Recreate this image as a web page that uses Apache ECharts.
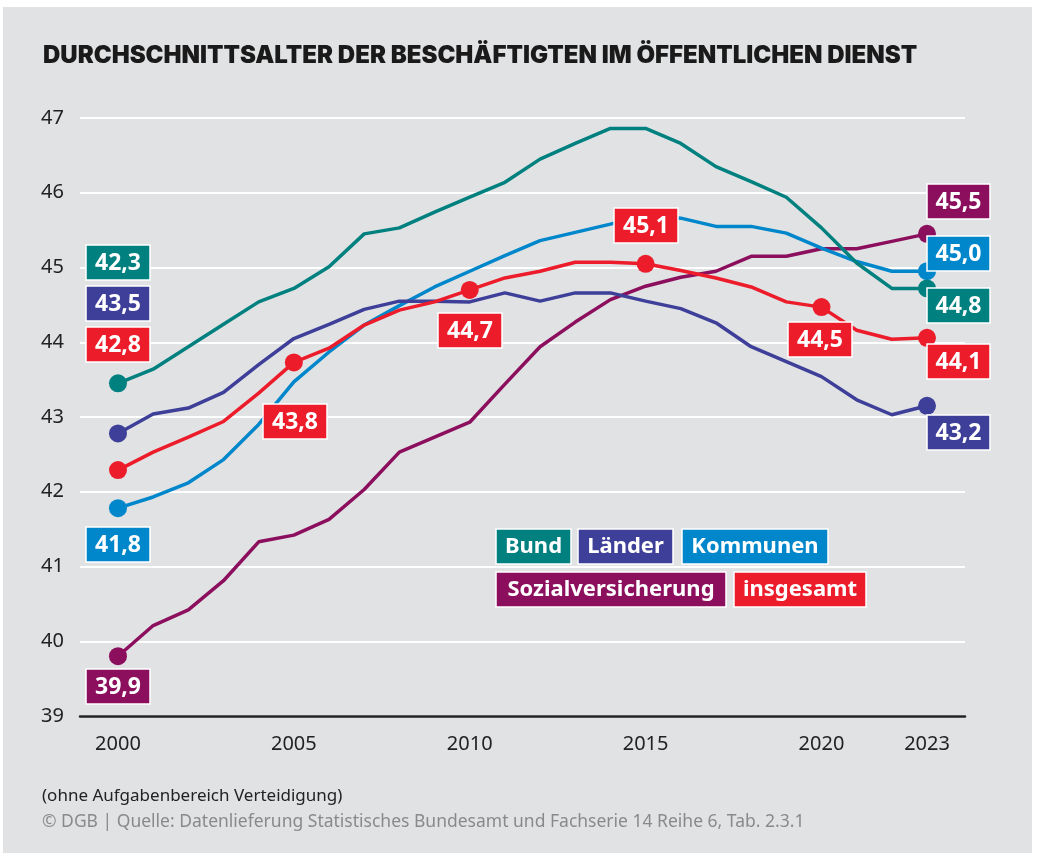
<!DOCTYPE html>
<html>
<head>
<meta charset="utf-8">
<script src="https://cdn.jsdelivr.net/npm/echarts@6/dist/echarts.min.js"></script>
<style>
html,body{margin:0;padding:0;background:#fff;}
#c{width:1039px;height:860px;}
</style>
</head>
<body>
<div id="c"></div>
<script>
// ---- data ----
const years = [2000,2001,2002,2003,2004,2005,2006,2007,2008,2009,2010,2011,2012,2013,2014,2015,2016,2017,2018,2019,2020,2021,2022,2023];
const bund = [43.45,43.64,43.94,44.24,44.54,44.72,45.01,45.45,45.53,45.74,45.94,46.14,46.45,46.66,46.86,46.86,46.66,46.35,46.15,45.94,45.53,45.06,44.72,44.72];
const laender = [42.78,43.04,43.12,43.33,43.70,44.05,44.24,44.44,44.55,44.55,44.54,44.66,44.55,44.66,44.66,44.55,44.45,44.26,43.94,43.74,43.54,43.23,43.03,43.15];
const kommunen = [41.78,41.93,42.12,42.43,42.90,43.47,43.87,44.23,44.49,44.74,44.95,45.16,45.36,45.47,45.58,45.70,45.66,45.55,45.55,45.46,45.26,45.08,44.95,44.95];
const sozial = [39.80,40.21,40.42,40.81,41.33,41.42,41.63,42.03,42.53,42.73,42.93,43.44,43.94,44.27,44.57,44.75,44.87,44.95,45.15,45.15,45.25,45.25,45.35,45.45];
const insgesamt = [42.29,42.53,42.73,42.94,43.32,43.73,43.92,44.23,44.43,44.54,44.70,44.86,44.95,45.07,45.07,45.05,44.96,44.86,44.74,44.54,44.47,44.16,44.04,44.06];
const seriesNames = ['Bund','Länder','Kommunen','Sozialversicherung','insgesamt'];
const xTickLabels = [2000,2005,2010,2015,2020,2023];
const yTicks = [39,40,41,42,43,44,45,46,47];
// value labels shown in boxes
const labelsBund = ['42,3','44,8'];
const labelsLaender = ['43,5','43,2'];
const labelsKommunen = ['41,8','45,0'];
const labelsSozial = ['39,9','45,5'];
const labelsInsgesamt = ['42,8','43,8','44,7','45,1','44,5','44,1'];
const titleText = 'DURCHSCHNITTSALTER DER BESCHÄFTIGTEN IM ÖFFENTLICHEN DIENST';
const noteText = '(ohne Aufgabenbereich Verteidigung)';
const sourceText = '© DGB | Quelle: Datenlieferung Statistisches Bundesamt und Fachserie 14 Reihe 6, Tab. 2.3.1';

// ---- styles / layout ----
const colors = {
  'Bund':'#00807f',
  'Länder':'#3e3f98',
  'Kommunen':'#0087cb',
  'Sozialversicherung':'#8c0f5e',
  'insgesamt':'#ec1c2b'
};
const dotIdx = {
  'Bund':[0,23],
  'Länder':[0,23],
  'Kommunen':[0,23],
  'Sozialversicherung':[0,23],
  'insgesamt':[0,5,10,15,20,23]
};
const seriesData = {
  'Bund':bund,'Länder':laender,'Kommunen':kommunen,'Sozialversicherung':sozial,'insgesamt':insgesamt
};
const drawOrder = ['Sozialversicherung','Kommunen','Länder','Bund','insgesamt'];

function makeSeries(name){
  const vals = seriesData[name];
  const dots = dotIdx[name];
  return {
    name:name,
    type:'line',
    data: years.map((y,i)=>[y, vals[i]]),
    symbol:'circle',
    showAllSymbol:true,
    symbolSize:(v,p)=> dots.indexOf(p.dataIndex)>=0 ? 18 : 0,
    lineStyle:{color:colors[name], width:3.5},
    itemStyle:{color:colors[name]},
    emphasis:{disabled:true},
    z:2
  };
}

// box annotations: [text, color, left, top, width]
const boxFont = 'bold 23px "Noto Sans"';
const annotations = [
  [labelsBund[0], colors['Bund'], 86, 245, 64],
  [labelsLaender[0], colors['Länder'], 86, 286, 64],
  [labelsInsgesamt[0], colors['insgesamt'], 86, 327, 64],
  [labelsKommunen[0], colors['Kommunen'], 86, 527, 64],
  [labelsSozial[0], colors['Sozialversicherung'], 86, 669, 64],
  [labelsInsgesamt[1], colors['insgesamt'], 263, 404, 64],
  [labelsInsgesamt[2], colors['insgesamt'], 438, 313, 64],
  [labelsInsgesamt[3], colors['insgesamt'], 614, 208, 64],
  [labelsInsgesamt[4], colors['insgesamt'], 788, 322, 64],
  [labelsSozial[1], colors['Sozialversicherung'], 927, 184, 63],
  [labelsKommunen[1], colors['Kommunen'], 927, 236, 63],
  [labelsBund[1], colors['Bund'], 927, 288, 63],
  [labelsInsgesamt[5], colors['insgesamt'], 927, 344, 63],
  [labelsLaender[1], colors['Länder'], 927, 415, 63]
];
const legendBoxes = [
  [seriesNames[0], colors['Bund'], 496, 529, 75],
  [seriesNames[1], colors['Länder'], 578, 529, 95],
  [seriesNames[2], colors['Kommunen'], 682, 529, 146],
  [seriesNames[3], colors['Sozialversicherung'], 496, 572, 230],
  [seriesNames[4], colors['insgesamt'], 734, 572, 132]
];

function box(t, col, x, y, w, font){
  return {
    type:'group', z:100,
    children:[
      {type:'rect', z:100, shape:{x:x, y:y, width:w, height:35}, style:{fill:col, stroke:'#ffffff', lineWidth:1.5}},
      {type:'text', z:101, style:{text:t, x:x+w/2, y:y+18, align:'center', verticalAlign:'middle', textAlign:'center', textVerticalAlign:'middle', fill:'#ffffff', font:font}}
    ]
  };
}

const graphics = [
  {type:'rect', z:-10, silent:true, shape:{x:3, y:7, width:1029, height:846}, style:{fill:'#e1e2e4'}},
  {type:'text', z:100, style:{text:titleText, x:43, y:56, verticalAlign:'middle', textVerticalAlign:'middle', fill:'#1a1a1a', font:'900 24px Inter'}},
  {type:'text', z:100, style:{text:noteText, x:42, y:796, verticalAlign:'middle', textVerticalAlign:'middle', fill:'#222', font:'17px "Noto Sans"'}},
  {type:'text', z:100, style:{text:sourceText, x:42, y:822, verticalAlign:'middle', textVerticalAlign:'middle', fill:'#8a8a8a', font:'17.5px "Noto Sans"'}}
];
annotations.forEach(a=>graphics.push(box(a[0],a[1],a[2],a[3],a[4],boxFont)));
legendBoxes.forEach(a=>graphics.push(box(a[0],a[1],a[2],a[3],a[4],'bold 22px "Noto Sans"')));

const chart = echarts.init(document.getElementById('c'), null, {renderer:'canvas'});
chart.setOption({
  animation:false,
  backgroundColor:'#ffffff',
  grid:{left:80, right:74, top:118, bottom:144, containLabel:false},
  xAxis:{
    type:'value', min:1998.92, max:2024.08,
    axisLine:{show:true, onZero:false, lineStyle:{color:'#222', width:2.5}},
    axisTick:{show:false},
    splitLine:{show:false},
    axisLabel:{customValues:xTickLabels, formatter:v=>String(v), margin:18, color:'#222', fontSize:20, fontFamily:'Noto Sans'}
  },
  yAxis:{
    type:'value', min:39, max:47, interval:1,
    axisLine:{show:false}, axisTick:{show:false},
    splitLine:{show:true, lineStyle:{color:'#ffffff', width:2}},
    axisLabel:{margin:16, color:'#222', fontSize:20, fontFamily:'Noto Sans', formatter:v=> yTicks.indexOf(v)>=0 ? String(v) : ''}
  },
  series: drawOrder.map(makeSeries),
  graphic: graphics
});
</script>
</body>
</html>
